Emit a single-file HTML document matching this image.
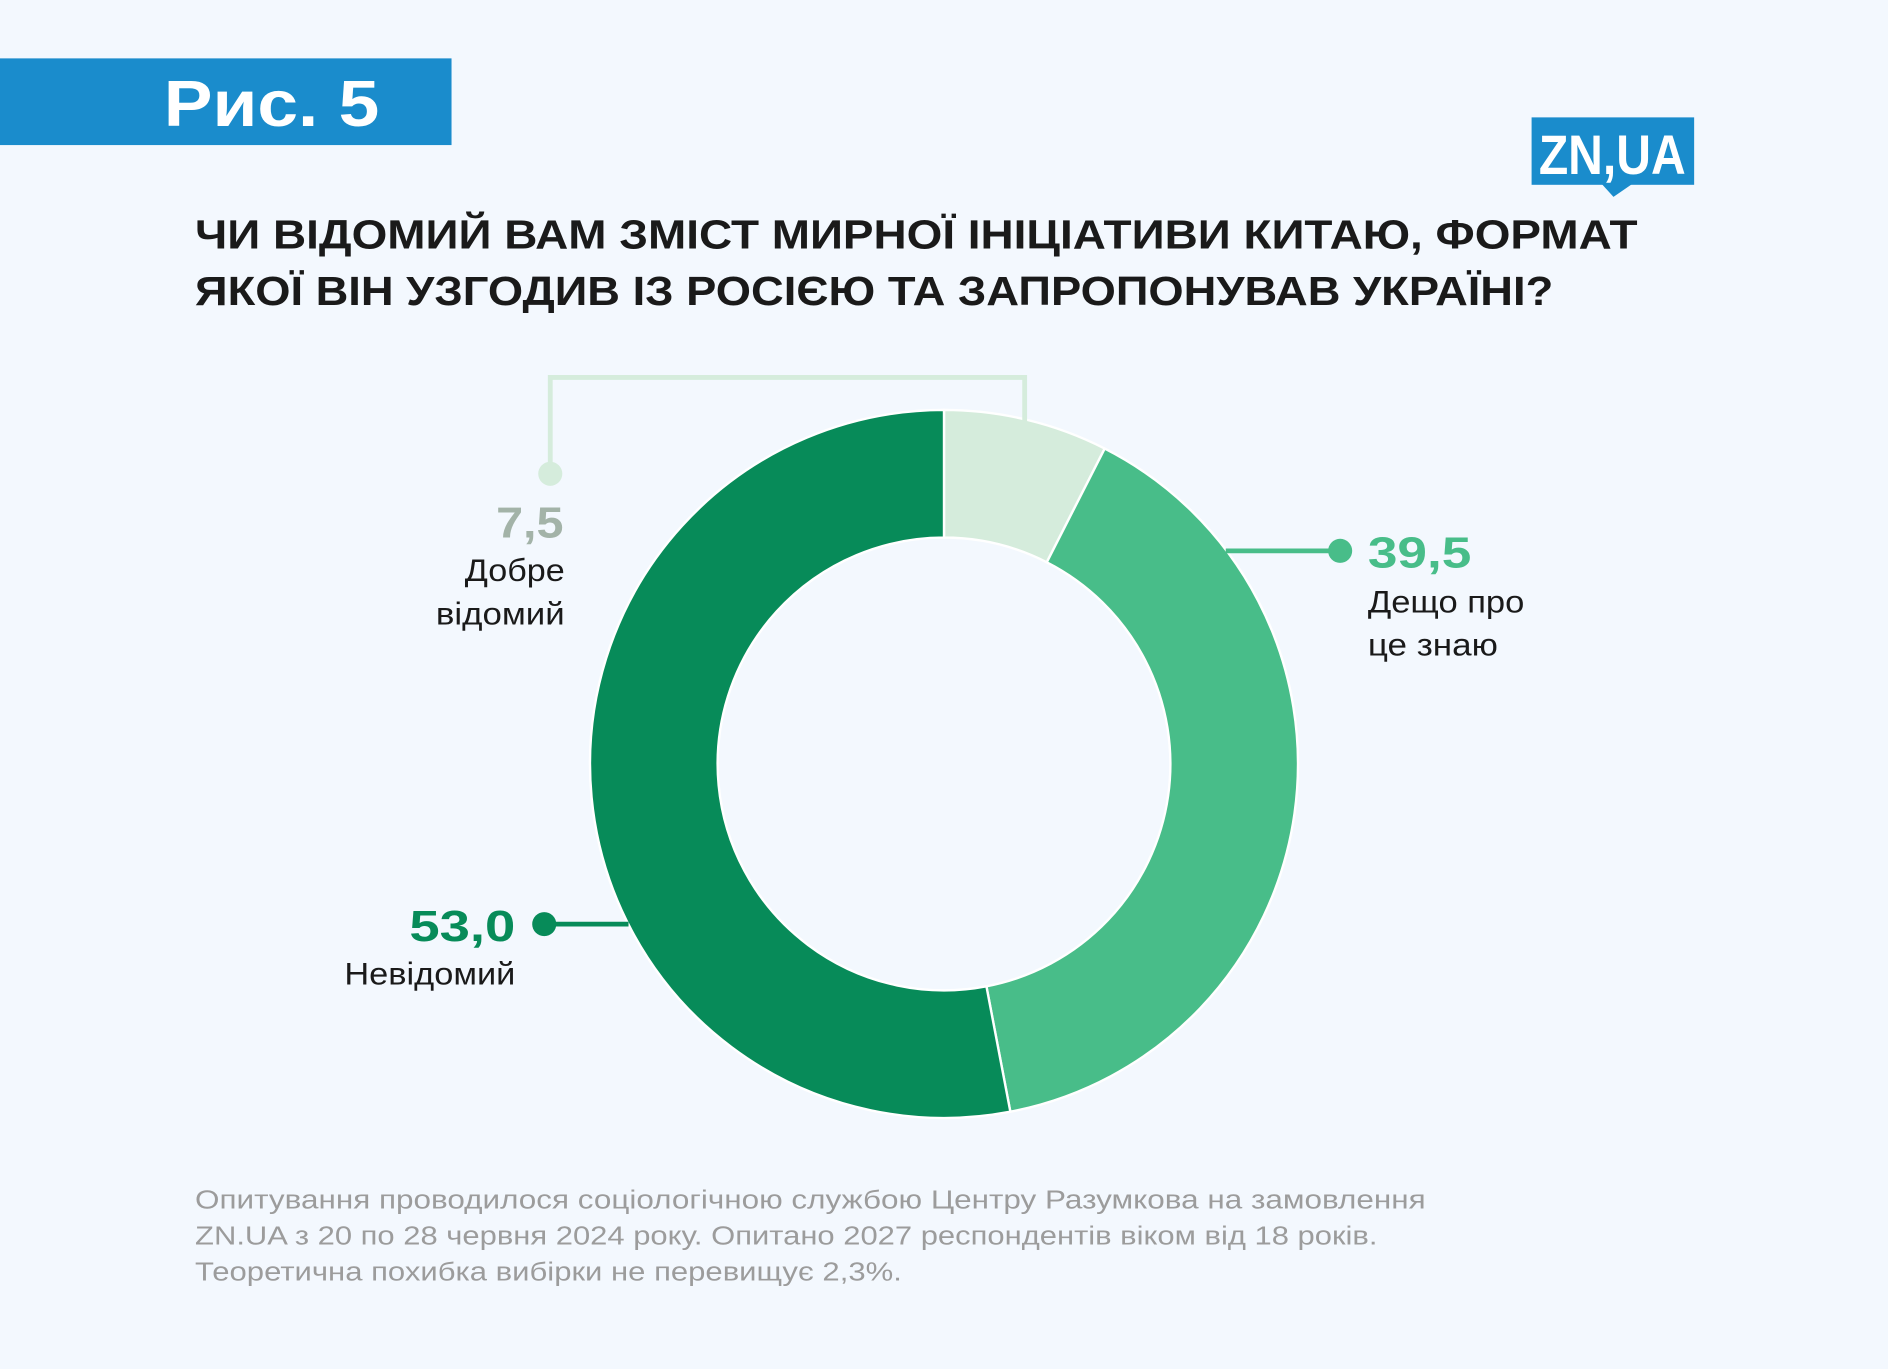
<!DOCTYPE html>
<html><head><meta charset="utf-8"><style>
html,body{margin:0;padding:0;background:#f3f8fe}
svg{display:block}
text{font-family:"Liberation Sans",sans-serif}
</style></head><body>
<svg width="1888" height="1369" viewBox="0 0 1568 1136">
<rect width="1568" height="1136" fill="#f3f8fe"/>
<rect x="0" y="48" width="375" height="72" fill="#1a8ccc"/>
<text x="136" y="104" font-size="54" font-weight="bold" fill="#fff" textLength="179" lengthAdjust="spacingAndGlyphs">Рис. 5</text>
<g>
<rect x="1272" y="97" width="135" height="56" fill="#1a8ccc"/>
<polygon points="1330,152 1356,152 1340,163" fill="#1a8ccc"/>
<text x="1339" y="144" font-size="46" font-weight="bold" fill="#fff" text-anchor="middle" textLength="122" lengthAdjust="spacingAndGlyphs">ZN,UA</text>
</g>
<text font-size="34" font-weight="bold" fill="#1a1a1a">
<tspan x="162" y="206" textLength="1198" lengthAdjust="spacingAndGlyphs">ЧИ ВІДОМИЙ ВАМ ЗМІСТ МИРНОЇ ІНІЦІАТИВИ КИТАЮ, ФОРМАТ</tspan>
<tspan x="162" y="253" textLength="1128" lengthAdjust="spacingAndGlyphs">ЯКОЇ ВІН УЗГОДИВ ІЗ РОСІЄЮ ТА ЗАПРОПОНУВАВ УКРАЇНІ?</tspan>
</text>
<g id="donut"></g>
<g>
<polyline points="457,393 457,313 851,313 851,350" fill="none" stroke="#d5ecdc" stroke-width="4"/>
<circle cx="457" cy="393" r="10" fill="#d5ecdc"/>
<line x1="1018" y1="457" x2="1113" y2="457" stroke="#48bd89" stroke-width="4"/>
<circle cx="1113" cy="457" r="10" fill="#48bd89"/>
<line x1="452" y1="767" x2="522" y2="767" stroke="#078b59" stroke-width="4"/>
<circle cx="452" cy="767" r="10" fill="#078b59"/>
</g>
<g>
<text x="412" y="446" font-size="36" font-weight="bold" fill="#a3b3a8" textLength="56" lengthAdjust="spacingAndGlyphs">7,5</text>
<text x="386" y="482" font-size="26" fill="#1a1a1a" textLength="83" lengthAdjust="spacingAndGlyphs">Добре</text>
<text x="362" y="518" font-size="26" fill="#1a1a1a" textLength="107" lengthAdjust="spacingAndGlyphs">відомий</text>
</g>
<g>
<text x="1136" y="471" font-size="36" font-weight="bold" fill="#48bd89" textLength="86" lengthAdjust="spacingAndGlyphs">39,5</text>
<text x="1136" y="508" font-size="26" fill="#1a1a1a" textLength="130" lengthAdjust="spacingAndGlyphs">Дещо про</text>
<text x="1136" y="544" font-size="26" fill="#1a1a1a" textLength="108" lengthAdjust="spacingAndGlyphs">це знаю</text>
</g>
<g>
<text x="340" y="781" font-size="36" font-weight="bold" fill="#078b59" textLength="88" lengthAdjust="spacingAndGlyphs">53,0</text>
<text x="286" y="817" font-size="26" fill="#1a1a1a" textLength="142" lengthAdjust="spacingAndGlyphs">Невідомий</text>
</g>
<text font-size="21.5" fill="#9c9c9c">
<tspan x="162" y="1003" textLength="1022" lengthAdjust="spacingAndGlyphs">Опитування проводилося  соціологічною службою Центру Разумкова на замовлення</tspan>
<tspan x="162" y="1033" textLength="982" lengthAdjust="spacingAndGlyphs">ZN.UA з 20 по 28 червня 2024 року. Опитано 2027 респондентів віком від 18 років.</tspan>
<tspan x="162" y="1063" textLength="587" lengthAdjust="spacingAndGlyphs">Теоретична похибка вибірки не перевищує 2,3%.</tspan>
</text>
</svg>
<script>
const categories = ["Добре відомий", "Дещо про це знаю", "Невідомий"];
const values = [7.5, 39.5, 53.0];
const colors = ["#d5ecdc", "#48bd89", "#078b59"];
const cx = 784, cy = 634, R = 294, r = 188;
const g = document.getElementById('donut');
const total = values.reduce((a, b) => a + b, 0);
function pt(rad, frac) { const a = frac * 2 * Math.PI; return [cx + rad * Math.sin(a), cy - rad * Math.cos(a)]; }
let acc = 0;
values.forEach((v, i) => {
  const f0 = acc / total, f1 = (acc + v) / total; acc += v;
  const large = (f1 - f0) > 0.5 ? 1 : 0;
  const [x0, y0] = pt(R, f0), [x1, y1] = pt(R, f1), [x2, y2] = pt(r, f1), [x3, y3] = pt(r, f0);
  const p = document.createElementNS('http://www.w3.org/2000/svg', 'path');
  p.setAttribute('d', `M${x0},${y0} A${R},${R} 0 ${large} 1 ${x1},${y1} L${x2},${y2} A${r},${r} 0 ${large} 0 ${x3},${y3} Z`);
  p.setAttribute('fill', colors[i]);
  p.setAttribute('stroke', '#ffffff');
  p.setAttribute('stroke-width', '2');
  
  
  g.appendChild(p);
});
</script>
</body></html>
